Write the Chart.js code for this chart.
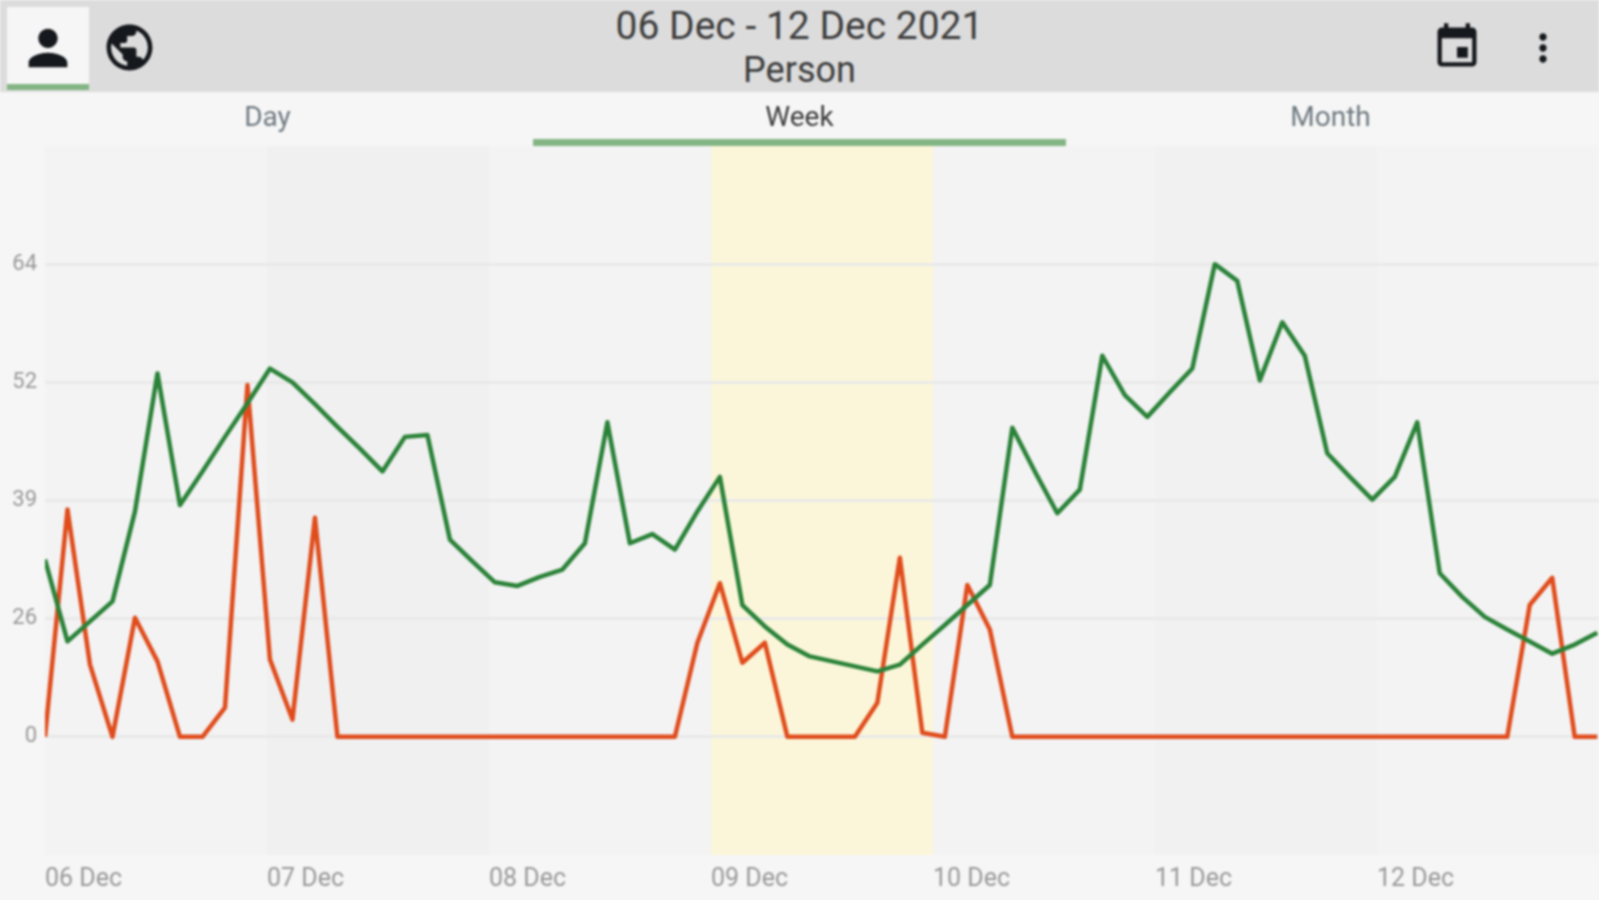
<!DOCTYPE html>
<html>
<head>
<meta charset="utf-8">
<title>06 Dec - 12 Dec 2021</title>
<script src="https://cdn.jsdelivr.net/npm/chart.js@4"></script>
<style>
html,body{margin:0;padding:0;width:1599px;height:900px;overflow:hidden;background:#f6f6f6;font-family:Roboto,sans-serif}
#page{position:absolute;left:0;top:0;width:1599px;height:900px;filter:blur(.8px)}
#head{position:absolute;left:0;top:0;width:1599px;height:92px;background:#dcdcdc}
#active{position:absolute;left:7px;top:7px;width:82px;height:77px;background:#f6f6f6}
#activeBar{position:absolute;left:7px;top:84px;width:82px;height:6px;background:#84b584}
.t{position:absolute;text-align:center;white-space:nowrap;color:#3c3c3c}
#title{left:0;width:1599px;top:3px;font-size:39px;line-height:46px}
#sub{left:0;width:1599px;top:49px;font-size:36px;line-height:42px}
.tab{top:100px;width:533px;font-size:28px;line-height:34px;color:#6f7a81}
#weekBar{position:absolute;left:533px;top:139px;width:533px;height:7px;background:#84b584}
svg{position:absolute;fill:#15181c}
canvas{position:absolute;left:0;top:0}
</style>
</head>
<body>
<div id="page">
<div id="head"></div>
<div id="active"></div><div id="activeBar"></div>
<svg style="left:19px;top:19px" width="58" height="58" viewBox="0 0 24 24"><path d="M12 12c2.21 0 4-1.79 4-4s-1.79-4-4-4-4 1.79-4 4 1.79 4 4 4zm0 2c-2.67 0-8 1.34-8 4v2h16v-2c0-2.66-5.33-4-8-4z"/></svg>
<svg style="left:102px;top:20px" width="55" height="55" viewBox="0 0 24 24"><path d="M12 2C6.48 2 2 6.48 2 12s4.48 10 10 10 10-4.48 10-10S17.52 2 12 2zm-1 17.93c-3.95-.49-7-3.85-7-7.93 0-.62.08-1.21.21-1.79L9 15v1c0 1.1.9 2 2 2v1.93zm6.9-2.54c-.26-.81-1-1.39-1.9-1.39h-1v-3c0-.55-.45-1-1-1H8v-2h2c.55 0 1-.45 1-1V7h2c1.1 0 2-.9 2-2v-.41c2.93 1.19 5 4.06 5 7.41 0 2.08-.8 3.97-2.1 5.39z"/></svg>
<svg style="left:1431px;top:21px" width="52" height="52" viewBox="0 0 24 24"><path d="M17 12h-5v5h5v-5zM16 1v2H8V1H6v2H5c-1.11 0-1.99.9-1.99 2L3 19c0 1.1.89 2 2 2h14c1.1 0 2-.9 2-2V5c0-1.1-.9-2-2-2h-1V1h-2zm3 18H5V8h14v11z"/></svg>
<svg style="left:1521px;top:26px" width="44" height="44" viewBox="0 0 24 24"><path d="M12 8c1.1 0 2-.9 2-2s-.9-2-2-2-2 .9-2 2 .9 2 2 2zm0 2c-1.1 0-2 .9-2 2s.9 2 2 2 2-.9 2-2-.9-2-2-2zm0 6c-1.1 0-2 .9-2 2s.9 2 2 2 2-.9 2-2-.9-2-2-2z"/></svg>
<div class="t" id="title">06 Dec - 12 Dec 2021</div>
<div class="t" id="sub">Person</div>
<div class="t tab" style="left:1px">Day</div>
<div class="t tab" style="left:533px;color:#3c3c3c">Week</div>
<div class="t tab" style="left:1064px">Month</div>
<div id="weekBar"></div>
<canvas id="c" width="1599" height="900"></canvas>
</div>
<script>
const dayLabels = ['06 Dec','07 Dec','08 Dec','09 Dec','10 Dec','11 Dec','12 Dec'];
const dayBandColors = ['#f3f3f3','#f0f0f0','#f3f3f3','#fbf6d9','#f3f3f3','#f1f1f1','#f3f3f3'];
const yTickValues = [0,26,39,52,64];
const yAxisKnots = [-26,0,26,39,52,64,77];
const hoursPerSample = 2.432;
const greenValues = [32.5,21.0,25.4,27.9,37.8,52.9,38.5,42.2,46.0,49.7,53.4,52.0,49.6,47.1,44.7,42.2,46.0,46.2,34.7,32.3,
  30.0,29.6,30.6,31.4,34.3,47.6,34.3,35.3,33.6,37.8,41.6,27.5,24.3,20.3,17.7,16.6,15.5,14.4,15.9,20.3,
  24.6,27.5,29.7,47.0,42.2,37.6,40.2,54.7,50.6,48.2,50.9,53.4,64.0,62.3,52.2,58.1,54.7,44.2,41.6,39.1,
  41.6,47.6,31.0,28.4,26.2,23.6,21.0,18.3,20.3,22.9];
const redValues = [0,38.0,15.9,0,26.1,16.6,0,0,6.4,51.7,17.0,3.8,37.1,0,0,0,0,0,0,0,
  0,0,0,0,0,0,0,0,0,20.7,29.9,16.3,20.7,0,0,0,0,7.5,32.7,0.9,
  0,29.7,23.6,0,0,0,0,0,0,0,0,0,0,0,0,0,0,0,0,0,
  0,0,0,0,0,0,27.5,30.5,0,0];

const toPoints = vals => vals.map((y,i)=>({x:i*hoursPerSample,y}));

// The reference axis spaces its labels 0, 26, 39, 52, 64 evenly, so its scale is piecewise.
class KneeScale extends Chart.LinearScale {
  static id = 'knee';
  static defaults = {};
  getPixelForValue(v){
    if (v === null || v === undefined) return NaN;
    const k = yAxisKnots; let i = 0;
    while (i < k.length-2 && v > k[i+1]) i++;
    return this.getPixelForDecimal((i + (v-k[i])/(k[i+1]-k[i]))/(k.length-1));
  }
  getValueForPixel(p){
    const k = yAxisKnots, d = this.getDecimalForPixel(p)*(k.length-1);
    const i = Math.max(0,Math.min(k.length-2,Math.floor(d)));
    return k[i]+(d-i)*(k[i+1]-k[i]);
  }
}
Chart.register(KneeScale);

const dayBands = {
  id:'dayBands',
  beforeDraw(chart){
    const {ctx,chartArea:a,scales:{x}} = chart;
    dayBandColors.forEach((col,i)=>{
      const l = x.getPixelForValue(i*24), r = x.getPixelForValue((i+1)*24);
      ctx.fillStyle = col;
      ctx.fillRect(l,a.top,r-l,a.bottom-a.top);
    });
  }
};

new Chart(document.getElementById('c'),{
  type:'line',
  data:{datasets:[
    {label:'Green',data:toPoints(greenValues),borderColor:'#2a8238',borderWidth:4.5,pointRadius:0,tension:0,borderJoinStyle:'round',order:1},
    {label:'Red',data:toPoints(redValues),borderColor:'#e04c1c',borderWidth:4.5,pointRadius:0,tension:0,borderJoinStyle:'round',order:2}
  ]},
  options:{
    responsive:false,animation:false,
    layout:{padding:{top:146,left:0,right:0,bottom:0}},
    plugins:{legend:{display:false},title:{display:false},tooltip:{enabled:false}},
    scales:{
      x:{type:'linear',min:0,max:168,
        grid:{display:false},border:{display:false},
        afterBuildTicks:s=>{s.ticks=dayLabels.map((_,i)=>({value:i*24}));},
        afterFit:s=>{s.height=45;},
        ticks:{autoSkip:false,maxRotation:0,align:'start',padding:2,color:'#989898',
          font:{family:'Roboto',size:25},callback:v=>dayLabels[v/24]}
      },
      y:{type:'knee',min:-26,max:77,
        grid:{color:'#e9e9e9',lineWidth:3,drawTicks:false},border:{display:false},
        afterBuildTicks:s=>{s.ticks=yTickValues.map(value=>({value}));},
        afterFit:s=>{s.width=45;},
        ticks:{padding:8,color:'#989898',font:{family:'Roboto',size:22},callback:v=>String(v)}
      }
    }
  },
  plugins:[dayBands]
});
</script>
</body>
</html>
